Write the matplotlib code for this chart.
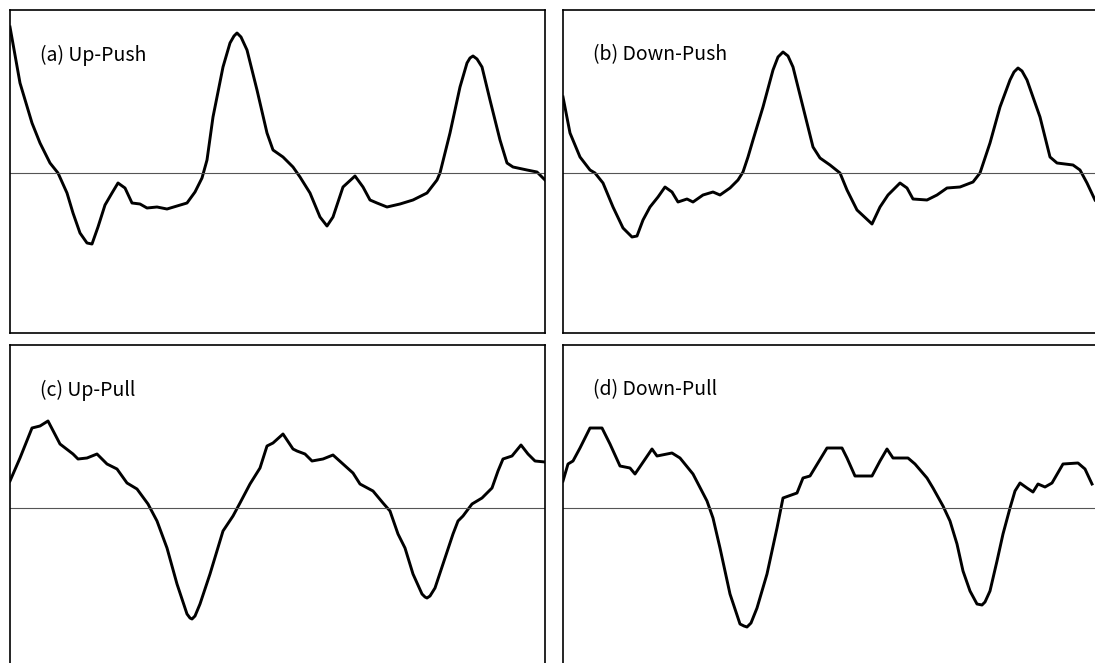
import matplotlib.pyplot as plt

# Señales de fuerza registradas en cada caso (tiempo en muestras, amplitud en unidades arbitrarias)
t_up_push = [0, 10, 22, 30, 40, 48, 57, 63, 70, 77, 82, 88, 95, 102, 108, 115, 122, 130, 137,
             147, 157, 167, 177, 185, 192, 197, 203, 213, 220, 224, 227, 231, 237, 247, 257, 263, 273,
             283, 290, 300, 310, 317, 323, 333, 345, 353, 360, 367, 377, 390, 403, 417, 427,
             430, 440, 450, 457, 460, 463, 467, 472, 480, 490, 497, 503, 517, 527, 535]
v_up_push = [146, 90, 50, 30, 10, 0, -20, -40, -60, -70, -71, -54, -32, -20, -10, -15, -30, -31, -35,
             -34, -36, -33, -30, -19, -5, 13, 56, 106, 130, 137, 140, 136, 123, 83, 40, 23, 16,
             6, -4, -20, -44, -53, -44, -14, -3, -14, -27, -30, -34, -31, -27, -20, -7,
             0, 40, 86, 110, 115, 117, 114, 106, 73, 33, 10, 6, 3, 1, -7]

t_down_push = [0, 7, 17, 27, 32, 40, 50, 60, 69, 74, 80, 87, 95, 102, 109, 115, 124, 130, 140,
               150, 157, 167, 175, 180, 185, 190, 200, 210, 215, 220, 225, 230, 240, 250, 257, 267, 277,
               284, 294, 309, 317, 325, 337, 344, 350, 364, 374, 384, 397, 410, 417, 427, 437,
               447, 451, 455, 459, 464, 477, 487, 494, 510, 517, 524, 532]
v_down_push = [76, 40, 16, 3, 0, -10, -34, -55, -64, -63, -47, -34, -24, -14, -19, -29, -26, -29, -22,
               -19, -22, -15, -7, 1, 16, 33, 66, 103, 116, 121, 117, 106, 66, 26, 15, 8, 0,
               -17, -37, -51, -34, -22, -10, -15, -26, -27, -22, -15, -14, -9, 0, 30, 66,
               93, 101, 105, 102, 93, 56, 16, 10, 8, 3, -10, -27]

t_up_pull = [0, 10, 22, 30, 38, 50, 63, 68, 77, 87, 97, 107, 117, 127, 138, 147, 157, 167, 177,
             180, 182, 185, 190, 200, 213, 223, 230, 240, 250, 257, 263, 273, 283, 287, 295, 302, 313,
             323, 333, 343, 350, 363, 373, 380, 388, 395, 403, 412, 415, 417, 420, 425, 433, 443, 448,
             453, 462, 472, 482, 488, 493, 502, 511, 518, 525, 535]
v_up_pull = [27, 50, 80, 82, 87, 64, 54, 49, 50, 54, 44, 39, 25, 19, 4, -13, -40, -76, -106,
             -110, -111, -108, -96, -66, -23, -8, 5, 24, 40, 62, 65, 74, 59, 57, 54, 47, 49,
             53, 44, 35, 24, 17, 5, -3, -26, -40, -66, -86, -89, -90, -88, -80, -56, -26, -13,
             -8, 4, 10, 20, 37, 49, 52, 63, 54, 47, 46]

t_down_pull = [0, 5, 10, 17, 27, 39, 47, 57, 67, 72, 89, 94, 109, 117, 130, 144, 150, 157, 167,
               177, 181, 184, 188, 194, 204, 214, 220, 234, 240, 247, 264, 279, 284, 292, 309, 317, 324,
               330, 345, 352, 364, 370, 380, 387, 394, 400, 407, 414, 419, 422, 427, 434, 440, 447,
               452, 457, 464, 470, 475, 482, 489, 500, 515, 522, 529]
v_down_pull = [27, 44, 47, 60, 80, 80, 64, 42, 40, 34, 59, 52, 55, 50, 34, 7, -10, -40, -86,
               -116, -118, -119, -115, -100, -66, -20, 10, 15, 30, 32, 60, 60, 50, 32, 32, 47, 59,
               50, 50, 44, 30, 20, 2, -13, -36, -63, -83, -96, -97, -94, -83, -53, -26, 0,
               17, 25, 20, 16, 24, 21, 25, 44, 45, 39, 24]

etiquetas = ["(a) Up-Push", "(b) Down-Push", "(c) Up-Pull", "(d) Down-Pull"]

# Posición de cada panel en píxeles: izquierda, arriba
posiciones = [(10, 10), (563, 10), (10, 345), (563, 345)]
ancho_px, alto_px = 535, 323
W, H = 1095, 663

fig = plt.figure(figsize=(W / 100, H / 100), dpi=100)
plt.rcParams['font.family'] = ['Noto Sans CJK JP', 'DejaVu Sans']

series = [(t_up_push, v_up_push), (t_down_push, v_down_push),
          (t_up_pull, v_up_pull), (t_down_pull, v_down_pull)]

for (izq, arriba), (t, v), texto in zip(posiciones, series, etiquetas):
    ax = fig.add_axes([izq / W, (H - arriba - alto_px) / H, ancho_px / W, alto_px / H])
    ax.plot(t, v, color='black', linewidth=2.1, solid_joinstyle='round')
    ax.axhline(0, color='#555555', linewidth=0.8)
    ax.set_xlim(0, 535)
    ax.set_ylim(-160, 163)
    ax.set_xticks([])
    ax.set_yticks([])
    for lado in ax.spines.values():
        lado.set_linewidth(1.2)
        lado.set_color('black')
    ax.text(30 / ancho_px, 1 - 45 / alto_px, texto, transform=ax.transAxes,
            fontsize=14, va='center', ha='left')

fig.savefig("out.png", dpi=100)
